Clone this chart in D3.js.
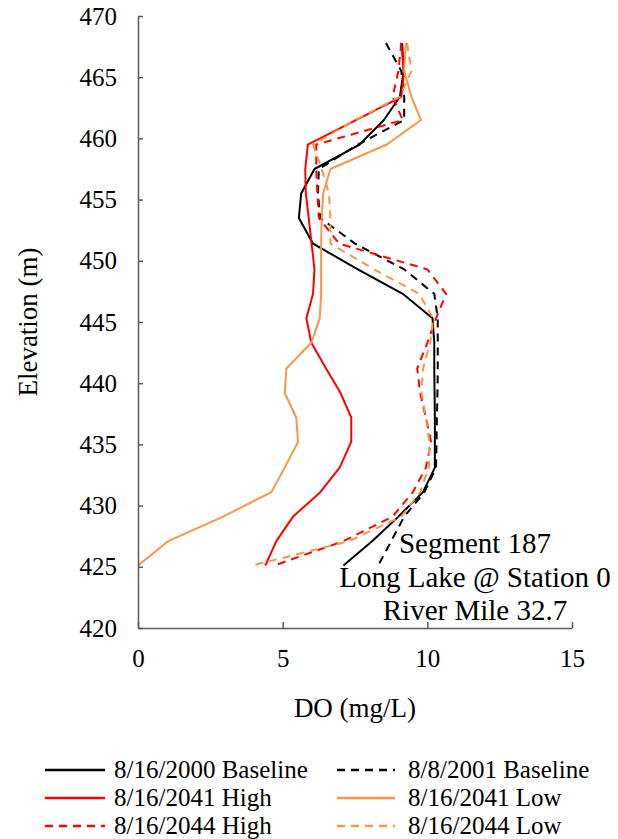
<!DOCTYPE html>
<html><head><meta charset="utf-8">
<script src="https://cdn.jsdelivr.net/npm/d3@7"></script>
<style>
html,body{margin:0;padding:0;background:#fff;}
svg{display:block;}
svg text{font-family:"Liberation Serif","Tinos","Times New Roman",Times,"Noto Serif","DejaVu Serif",serif;}
</style></head>
<body>
<svg id="chart" width="618" height="839"></svg>
<script>
// Elevation levels (m) shared by all profiles
const elevations = [467.8, 465.5, 463.4, 461.5, 459.5, 457.5, 455.5, 453.5, 451.4, 449.3, 447.3, 445.3, 443.3, 441.2, 439.2, 437.2, 435.2, 433.1, 431.1, 429.1, 427.1, 425.1];
// DO (mg/L) profiles
const baseline2000 = [9.13, 9.18, 9.05, 8.5, 7.66, 6.1, 5.64, 5.56, 6.05, 7.6, 9.15, 10.18, 10.24, 10.24, 10.25, 10.26, 10.26, 10.26, 9.85, 9.0, 8.1, 7.1];
const baseline2001 = [8.57, 9.1, 9.2, 9.2, 7.6, 6.25, 6.22, 6.3, 7.5, 9.2, 10.24, 10.36, 10.36, 10.36, 10.35, 10.33, 10.32, 10.3, 9.9, 9.2, 8.75, 8.3];
const high2041 = [9.09, 9.2, 9.1, 7.53, 5.87, 5.78, 5.8, 5.9, 6.0, 6.1, 6.05, 5.82, 5.99, 6.5, 7.0, 7.37, 7.37, 6.97, 6.3, 5.36, 4.78, 4.4];
const low2041 = [9.26, 9.2, 9.45, 9.78, 8.6, 6.65, 6.4, 6.35, 6.33, 6.33, 6.33, 6.28, 5.99, 5.13, 5.07, 5.47, 5.53, 5.07, 4.61, 2.94, 1.05, 0];
const high2044 = [9.1, 9.0, 8.8, 9.15, 6.16, 6.16, 6.2, 6.25, 6.95, 10.0, 10.65, 10.3, 10.0, 9.65, 9.75, 9.95, 10.13, 9.95, 9.5, 8.8, 7.1, 4.7];
const low2044 = [9.3, 9.45, 9.05, 7.5, 6.05, 6.35, 6.6, 6.65, 6.65, 8.16, 9.72, 10.2, 10.1, 9.85, 9.8, 9.95, 10.07, 10.05, 9.75, 9.1, 7.3, 3.95];

const seriesNames = ["8/16/2000 Baseline", "8/8/2001 Baseline", "8/16/2041 High", "8/16/2041 Low", "8/16/2044 High", "8/16/2044 Low"];
const seriesValues = [baseline2000, baseline2001, high2041, low2041, high2044, low2044];
const seriesColors = ["#000000", "#000000", "#ff0000", "#f79646", "#ff0000", "#f79646"];
const seriesDashed = [false, true, false, false, true, true];

const xTicks = [0, 5, 10, 15];
const yTicks = [420, 425, 430, 435, 440, 445, 450, 455, 460, 465, 470];
const annotationLines = ["Segment 187", "Long Lake @ Station 0", "River Mile 32.7"];
const xTitle = "DO (mg/L)";
const yTitle = "Elevation (m)";

const FONT = '"Liberation Serif","Tinos","Times New Roman",Times,"Noto Serif","DejaVu Serif",serif';
const svg = d3.select("#chart");
const x = d3.scaleLinear().domain([0, 15]).range([138, 572]);
const y = d3.scaleLinear().domain([420, 470]).range([628, 16]);
const axisColor = "#595959";

// Lines
const line = d3.line().x(d => x(d[0])).y(d => y(d[1]));
const gLines = svg.append("g");
seriesValues.forEach((vals, i) => {
  const pts = vals.map((v, j) => [v, elevations[j]]);
  gLines.append("path")
    .attr("d", line(pts))
    .attr("fill", "none")
    .attr("stroke", seriesColors[i])
    .attr("stroke-width", 2)
    .attr("stroke-linejoin", "round")
    .attr("stroke-dasharray", seriesDashed[i] ? "8,6" : null);
});

// Y axis
const gy = svg.append("g").attr("transform", `translate(${x(0)},0)`)
  .call(d3.axisLeft(y).tickValues(yTicks).tickSizeInner(-5).tickSizeOuter(0).tickPadding(21));
// X axis
const gx = svg.append("g").attr("transform", `translate(0,${y(420)})`)
  .call(d3.axisBottom(x).tickValues(xTicks).tickSizeInner(-6).tickSizeOuter(0).tickPadding(21));
[gx, gy].forEach(g => {
  g.attr("font-family", FONT).attr("font-size", 25);
  g.select(".domain").attr("stroke", axisColor).attr("stroke-width", 1.5);
  g.selectAll(".tick line").attr("stroke", axisColor).attr("stroke-width", 1.5);
  g.selectAll(".tick text").attr("fill", "#000").attr("font-family", FONT).attr("font-size", 25);
});

// Axis titles
svg.append("text").attr("x", 355).attr("y", 717).attr("text-anchor", "middle")
  .attr("font-family", FONT).attr("font-size", 27).text(xTitle);
svg.append("text").attr("transform", "translate(37,322) rotate(-90)").attr("text-anchor", "middle")
  .attr("font-family", FONT).attr("font-size", 27).text(yTitle);

// Annotation
annotationLines.forEach((t, i) => {
  svg.append("text").attr("x", 475).attr("y", 553 + i * 33.5).attr("text-anchor", "middle")
    .attr("font-family", FONT).attr("font-size", 29).text(t);
});

// Legend
const legendPos = [[45, 770], [337, 770], [45, 798], [337, 798], [45, 826], [337, 826]];
const legendLen = [60, 58, 60, 58, 60, 58];
seriesNames.forEach((name, i) => {
  const [lx, ly] = legendPos[i];
  svg.append("line").attr("x1", lx).attr("x2", lx + legendLen[i]).attr("y1", ly).attr("y2", ly)
    .attr("stroke", seriesColors[i]).attr("stroke-width", 2.5)
    .attr("stroke-dasharray", seriesDashed[i] ? "8,6" : null);
  svg.append("text").attr("x", lx + legendLen[i] + (i % 2 ? 13 : 9)).attr("y", ly + 8)
    .attr("font-family", FONT).attr("font-size", 25).text(name);
});
</script>
</body></html>
